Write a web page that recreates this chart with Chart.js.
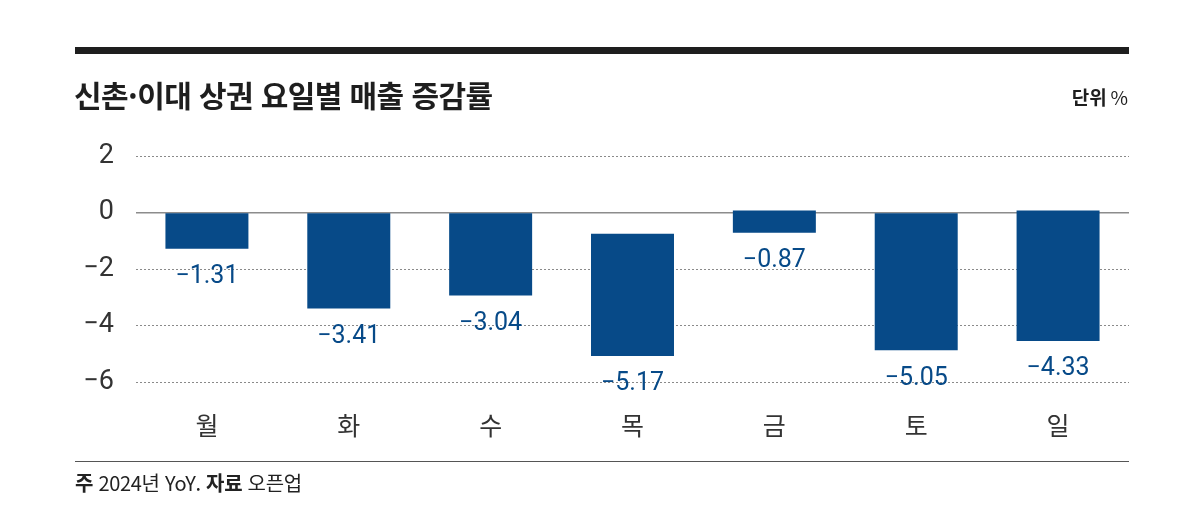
<!DOCTYPE html>
<html lang="ko">
<head>
<meta charset="utf-8">
<script src="https://cdn.jsdelivr.net/npm/chart.js@4"></script>
<style>
  html, body { margin: 0; padding: 0; background: #fff; }
  body { width: 1200px; height: 532px; position: relative; overflow: hidden; font-family: "Noto Sans CJK KR", Roboto, sans-serif; }
  #topRule { position: absolute; left: 75px; top: 47px; width: 1054px; height: 7px; background: #1e1e1e; }
  #title { position: absolute; left: 74px; top: 75px; font-size: 30px; font-weight: 700; color: #1e1e1e; letter-spacing: -0.6px; line-height: 38px; }
  #unit { position: absolute; right: 72px; top: 84px; font-size: 19px; color: #1e1e1e; line-height: 26px; }
  #bottomRule { position: absolute; left: 75px; top: 461px; width: 1054px; height: 1px; background: #555; }
  #note { position: absolute; left: 75px; top: 469px; font-size: 20px; color: #222; line-height: 28px; letter-spacing: -0.3px; }
  #wrap { position: absolute; left: 0; top: 0; width: 1200px; height: 532px; }
</style>
</head>
<body>
<div id="wrap"><canvas id="myChart"></canvas></div>
<div id="topRule"></div>
<div id="title">신촌·이대 상권 요일별 매출 증감률</div>
<div id="unit"><b>단위</b>&thinsp;%</div>
<div id="bottomRule"></div>
<div id="note"><b>주</b> 2024년 YoY. <b>자료</b> 오픈업</div>
<script>
// days of week
const days = ['월', '화', '수', '목', '금', '토', '일'];
// where each bar starts and ends, as drawn in the picture
const barStart = [0, 0, 0, -0.75, 0.07, 0, 0.07];
const barEnd = [-1.28, -3.40, -2.94, -5.08, -0.72, -4.88, -4.55];
// printed value labels
const valueLabels = ['−1.31', '−3.41', '−3.04', '−5.17', '−0.87', '−5.05', '−4.33'];
// y axis
const yTicks = [-6, -4, -2, 0, 2];
const yTickLabels = ['−6', '−4', '−2', '0', '2'];

const blue = '#074a88';

// value labels under each bar end
const barLabels = {
    id: 'barLabels',
    afterDatasetsDraw(chart) {
        const ctx = chart.ctx;
        const meta = chart.getDatasetMeta(0);
        const y = chart.scales.y;
        ctx.save();
        ctx.fillStyle = blue;
        ctx.font = '25px Roboto, "Noto Sans", sans-serif';
        ctx.textAlign = 'center';
        ctx.textBaseline = 'middle';
        meta.data.forEach((bar, i) => {
            const py = y.getPixelForValue(barEnd[i]) + 28;
            ctx.fillText(valueLabels[i], bar.x, py);
        });
        ctx.restore();
    }
};

const config = {
    type: 'bar',
    data: {
        labels: days,
        datasets: [{
            data: days.map((_, i) => [barStart[i], barEnd[i]]),
            backgroundColor: blue,
            borderWidth: 0,
            barPercentage: 0.585,
            categoryPercentage: 1
        }]
    },
    options: {
        responsive: false,
        animation: false,
        devicePixelRatio: 1,
        layout: { padding: { top: 156, right: 71, left: 0, bottom: 50 } },
        scales: {
            x: {
                grid: { display: false },
                border: { display: false },
                ticks: {
                    color: '#333',
                    padding: 20,
                    font: { size: 25, family: '"Noto Sans CJK KR", sans-serif' }
                },
                afterFit: scale => { scale.height = 100; }
            },
            y: {
                min: -6,
                max: 2,
                afterBuildTicks: scale => { scale.ticks = yTicks.map(v => ({ value: v })); },
                ticks: {
                    color: '#333',
                    padding: 22,
                    font: { size: 27, family: 'Roboto, sans-serif' },
                    callback: v => yTickLabels[yTicks.indexOf(v)]
                },
                grid: {
                    drawTicks: false,
                    color: c => (c.tick && c.tick.value === 0) ? '#8c8c8c' : '#8a8a8a',
                    lineWidth: c => (c.tick && c.tick.value === 0) ? 1.6 : 1
                },
                border: {
                    display: false,
                    dash: c => (c.tick && c.tick.value === 0) ? [] : [2, 2]
                },
                afterFit: scale => { scale.width = 136; }
            }
        },
        plugins: {
            legend: { display: false },
            tooltip: { enabled: false }
        }
    },
    plugins: [barLabels]
};

const canvas = document.getElementById('myChart');
canvas.width = 1200;
canvas.height = 532;
window.myChart = new Chart(canvas, config);
</script>
</body>
</html>
